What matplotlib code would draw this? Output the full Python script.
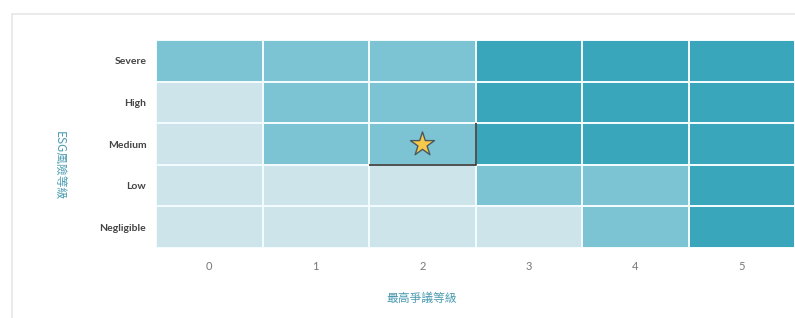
import matplotlib.pyplot as plt
from matplotlib.colors import ListedColormap
from matplotlib.patches import Rectangle
import numpy as np

plt.rcParams['font.family'] = ['Lato', 'Noto Sans CJK TC', 'DejaVu Sans']

# Datos del gráfico
x_levels = ['0', '1', '2', '3', '4', '5']
y_levels = ['Negligible', 'Low', 'Medium', 'High', 'Severe']  # de abajo hacia arriba
# 0 = bajo, 1 = medio, 2 = alto (filas de abajo hacia arriba)
risk_grid = [
    [0, 0, 0, 0, 1, 2],  # Negligible
    [0, 0, 0, 1, 1, 2],  # Low
    [0, 1, 1, 2, 2, 2],  # Medium
    [0, 1, 1, 2, 2, 2],  # High
    [1, 1, 1, 2, 2, 2],  # Severe
]
star_x = '2'
star_y = 'Medium'
x_label = '最高爭議等級'
y_label = 'ESG風險等級'

colores = ListedColormap(['#cce4ea', '#7cc4d4', '#3aa6bc'])

fig = plt.figure(figsize=(7.95, 3.18), dpi=100)

# Marco de la tarjeta
fig.patches.append(Rectangle((12 / 795, -0.1), 1.2, 1 - 14 / 318 + 0.1,
                             transform=fig.transFigure, facecolor='none',
                             edgecolor='#e6e6e6', linewidth=1.2, zorder=-1))

ax = fig.add_axes([156 / 795, 1 - 248 / 318, 1 - 156 / 795, 208 / 318])
ax.pcolormesh(np.array(risk_grid), cmap=colores, vmin=0, vmax=2,
              edgecolors='#f2fbfd', linewidth=1.1)

ax.set_xlim(0, len(x_levels))
ax.set_ylim(0, len(y_levels))
ax.set_xticks(np.arange(len(x_levels)) + 0.5)
ax.set_xticklabels(x_levels, fontsize=8, color='#777777')
ax.set_yticks(np.arange(len(y_levels)) + 0.5)
ax.set_yticklabels(y_levels, fontsize=7.5, color='#444444', fontweight='bold')
ax.tick_params(length=0, pad=9)
ax.tick_params(axis='y', pad=7)
for s in ax.spines.values():
    s.set_visible(False)

# Celda destacada con la estrella
sx = x_levels.index(star_x)
sy = y_levels.index(star_y)
ax.plot([sx, sx + 1, sx + 1], [sy, sy, sy + 1], color='#333333', linewidth=1.2,
        solid_capstyle='butt')
ax.scatter([sx + 0.5], [sy + 0.5], marker='*', s=330, color='#f7c94a',
           edgecolors='#4a5a60', linewidths=1.0, zorder=5)

fig.text(422 / 795, 1 - 298 / 318, x_label, ha='center', va='center',
         fontsize=8.5, color='#4a9bb0', family=['Noto Sans CJK TC', 'DejaVu Sans'])
fig.text(58 / 795, 1 - 166 / 318, y_label, ha='center', va='center', rotation=270,
         fontsize=8.5, color='#4a9bb0', family=['Noto Sans CJK TC', 'DejaVu Sans'])

fig.savefig('out.png', dpi=100)
